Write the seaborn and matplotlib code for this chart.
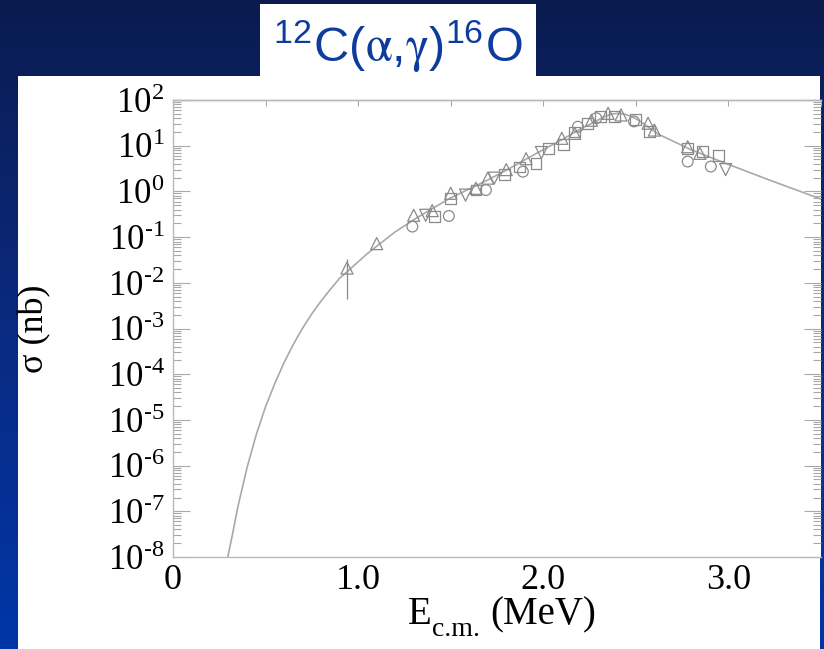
import numpy as np
import pandas as pd
import matplotlib
matplotlib.use("Agg")
import matplotlib.pyplot as plt
import seaborn as sns
from matplotlib.patches import Rectangle
from matplotlib.colors import LinearSegmentedColormap
from matplotlib.ticker import (LogLocator, FuncFormatter, MultipleLocator,
                               FixedLocator, FixedFormatter, NullFormatter)

# ---------------- data ----------------
title_text = r"$^{\mathdefault{12}}$C($\mathrm{\alpha}$,$\mathrm{\gamma}$)$^{\mathdefault{16}}$O"
x_label_main = "E"
x_label_sub = "c.m."
x_label_unit = "(MeV)"
y_label = "σ (nb)"
x_ticks = [0.0, 1.0, 2.0, 3.0]
x_tick_labels = ["0", "1.0", "2.0", "3.0"]

curve_E = [0.285, 0.296, 0.32, 0.35, 0.40, 0.45, 0.50, 0.55, 0.60, 0.65, 0.70, 0.75,
           0.80, 0.85, 0.90, 0.94, 1.05, 1.10, 1.20, 1.30, 1.40, 1.50, 1.60, 1.70,
           1.80, 1.90, 2.00, 2.10, 2.20, 2.275, 2.32, 2.36, 2.40, 2.44, 2.48, 2.52,
           2.57, 2.62, 2.80, 2.96, 3.22, 3.50]
curve_sigma = [5.0e-9, 1.0e-8, 2.95e-8, 1.23e-7, 9.1e-7, 4.8e-6, 1.95e-5, 6.3e-5,
               1.8e-4, 4.5e-4, 1.02e-3, 2.1e-3, 4.0e-3, 7.2e-3, 0.0126, 0.0174,
               0.0437, 0.063, 0.13, 0.24, 0.42, 0.72, 1.13, 1.78, 2.9, 4.9, 8.2,
               13.5, 23.0, 33.0, 41.0, 48.0, 51.0, 49.0, 43.0, 35.0, 25.0, 18.0,
               8.1, 4.5, 1.78, 0.68]

tri_E = [0.94, 1.10, 1.30, 1.40, 1.50, 1.636, 1.70, 1.80, 1.907, 2.10, 2.17,
         2.26, 2.35, 2.42, 2.566, 2.60, 2.78, 2.846]
tri_sigma = [0.021, 0.072, 0.30, 0.38, 0.91, 1.17, 1.95, 3.0, 5.2, 14.5, 18.6,
             36.0, 51.0, 47.0, 31.0, 22.0, 9.5, 6.8]

circ_E = [1.293, 1.49, 1.69, 1.89, 2.187, 2.286, 2.49, 2.78, 2.905]
circ_sigma = [0.17, 0.29, 1.07, 2.7, 26.0, 40.0, 34.0, 4.5, 3.5]

sq_E = [1.414, 1.50, 1.636, 1.79, 1.87, 1.96, 2.03, 2.11, 2.17, 2.24, 2.31,
        2.385, 2.50, 2.575, 2.78, 2.86, 2.945]
sq_sigma = [0.28, 0.71, 1.07, 2.3, 3.4, 4.1, 8.7, 10.5, 20.0, 31.0, 44.0,
            44.0, 37.0, 20.5, 8.7, 7.4, 6.0]

inv_E = [1.365, 1.58, 1.735, 1.99, 2.985]
inv_sigma = [0.30, 0.83, 1.95, 7.1, 3.0]

err_E = [0.94]
err_sigma = [0.021]
err_low = [0.0044]
err_high = [0.034]

# ---------------- styling ----------------
sns.set_theme(style="white")
plt.rcParams["font.family"] = ["Liberation Serif", "DejaVu Serif"]
plt.rcParams["mathtext.fontset"] = "stix"

W, H = 824, 649
fig = plt.figure(figsize=(W / 100, H / 100), dpi=100)

# background gradient
bg = fig.add_axes([0, 0, 1, 1], zorder=-10)
grad = np.linspace(0, 1, 256).reshape(-1, 1)
cmap = LinearSegmentedColormap.from_list("bg", ["#0b1b4f", "#0a2a80", "#0036a8"])
bg.imshow(grad, aspect="auto", cmap=cmap, extent=[0, 1, 0, 1], origin="upper")
bg.axis("off")

# white panel and title box
fig.patches.append(Rectangle((18 / W, 0), (820 - 18) / W, (H - 76) / H,
                             transform=fig.transFigure, facecolor="white",
                             edgecolor="none", zorder=-5))
fig.patches.append(Rectangle((260 / W, (H - 77) / H), (536 - 260) / W, (77 - 4) / H,
                             transform=fig.transFigure, facecolor="white",
                             edgecolor="none", zorder=-5))
fig.text(398 / W, (H - 47) / H, title_text, family=["Liberation Sans", "DejaVu Sans"],
         fontsize=35, color="#0d3c9e", ha="center", va="center")

ax = fig.add_axes([173 / W, (H - 557) / H, (821 - 173) / W, (557 - 100) / H])
ax.set_facecolor("white")

line_col = "#a9a9a9"
mk_col = "#8a8a8a"

sns.lineplot(x=curve_E, y=curve_sigma, ax=ax, color=line_col, linewidth=1.2,
             sort=False, zorder=2)

ax.errorbar(err_E, err_sigma,
            yerr=[[err_sigma[0] - err_low[0]], [err_high[0] - err_sigma[0]]],
            fmt="none", ecolor=mk_col, elinewidth=0.9, capsize=0, zorder=3)

series = [(tri_E, tri_sigma, "^", 75), (circ_E, circ_sigma, "o", 60),
          (sq_E, sq_sigma, "s", 60), (inv_E, inv_sigma, "v", 75)]
for xs, ys, mk, sz in series:
    df = pd.DataFrame({"E": xs, "sigma": ys})
    sns.scatterplot(data=df, x="E", y="sigma", ax=ax, marker=mk, s=sz,
                    facecolors="none", edgecolor=mk_col, linewidth=0.9, zorder=4)

ax.set_yscale("log")
ax.set_xlim(0, 3.5)
ax.set_ylim(1e-8, 1e2)


def log_label(v, pos):
    e = int(round(np.log10(v)))
    if e < 0:
        return r"$\mathdefault{10}^{\text{-}\mathdefault{%d}}$" % (-e)
    return r"$\mathdefault{10}^{\mathdefault{%d}}$" % e


ax.yaxis.set_major_locator(LogLocator(base=10, numticks=20))
ax.yaxis.set_minor_locator(LogLocator(base=10, subs=np.arange(2, 10), numticks=20))
ax.yaxis.set_major_formatter(FuncFormatter(log_label))
ax.yaxis.set_minor_formatter(NullFormatter())
ax.xaxis.set_major_locator(FixedLocator(x_ticks))
ax.xaxis.set_major_formatter(FixedFormatter(x_tick_labels))
ax.xaxis.set_minor_locator(MultipleLocator(0.5))

tick_col = "#a8a8a8"
ax.tick_params(axis="x", which="major", direction="in", length=8.5, width=0.8,
               color=tick_col, labelsize=26, pad=5, top=False, labelcolor="black")
ax.tick_params(axis="x", which="minor", direction="in", length=4, width=0.8,
               color=tick_col, top=False)
ax.tick_params(axis="y", which="major", direction="in", length=12.5, width=0.8,
               color=tick_col, labelsize=25, right=True, left=True, pad=6,
               labelcolor="black")
ax.tick_params(axis="y", which="minor", direction="in", length=5.5, width=0.8,
               color=tick_col, right=True, left=True)

sec = ax.secondary_xaxis("top")
sec.set_xticks(np.arange(0, 3.51, 0.5))
sec.set_xticklabels([])
sec.tick_params(direction="in", length=4, width=0.8, color=tick_col)
for s in sec.spines.values():
    s.set_color("#b8b8b8")
    s.set_linewidth(1.0)

for name, sp in ax.spines.items():
    sp.set_color("#b8b8b8")
    sp.set_linewidth(1.0)
ax.spines["right"].set_visible(False)

# x label built from three text pieces (main letter, lowered subscript, unit)
ax.set_xlabel("")
t_main = ax.text((408 - 173) / 648, (557 - 633) / 457, x_label_main,
                 transform=ax.transAxes, fontsize=28, ha="left", va="bottom",
                 color="black")
t_sub = ax.annotate(x_label_sub, xy=(1, 0), xycoords=t_main, xytext=(0.5, -2.5),
                    textcoords="offset points", fontsize=20, ha="left",
                    va="baseline", color="black", annotation_clip=False)
t_unit = ax.annotate(x_label_unit, xy=(1, 0), xycoords=(t_sub, t_main),
                     xytext=(7, 0), textcoords="offset points", fontsize=28,
                     ha="left", va="bottom", color="black", annotation_clip=False)

ax.set_ylabel(y_label, fontsize=26, color="black")
ax.yaxis.set_label_coords(-0.187, 0.5)
ax.grid(False)

fig.savefig("out.png", dpi=100)
